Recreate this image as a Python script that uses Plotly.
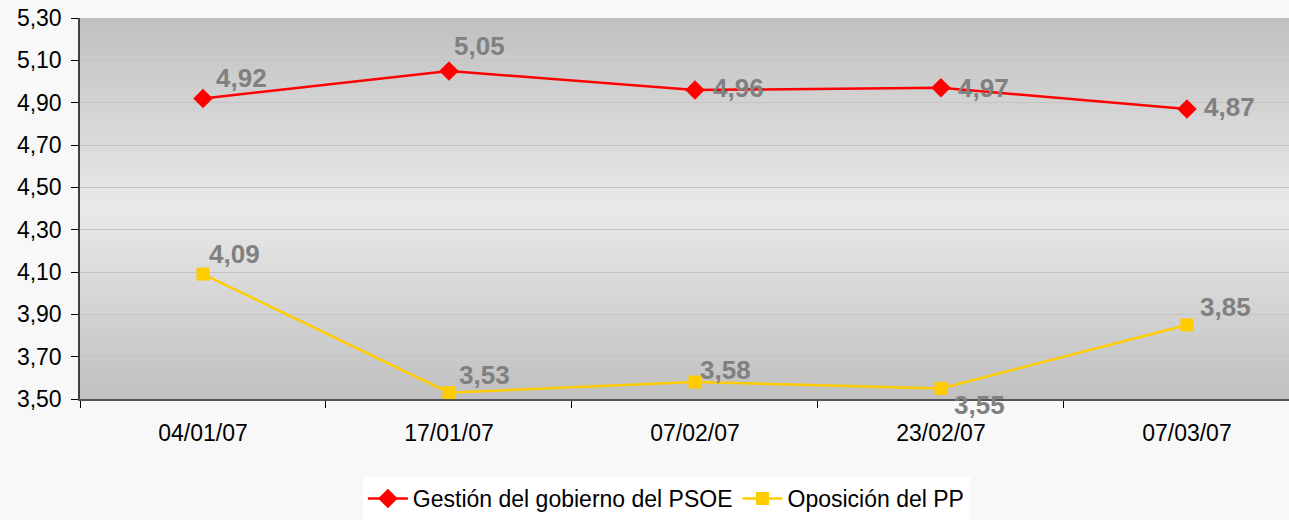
import plotly.graph_objects as go

categories = ["04/01/07", "17/01/07", "07/02/07", "23/02/07", "07/03/07"]
psoe_values = [4.92, 5.05, 4.96, 4.97, 4.87]
pp_values = [4.09, 3.53, 3.58, 3.55, 3.85]
series_names = ["Gestión del gobierno del PSOE", "Oposición del PP"]
y_ticks = [3.5, 3.7, 3.9, 4.1, 4.3, 4.5, 4.7, 4.9, 5.1, 5.3]

# label offsets (pixels, relative to each point): right, up
psoe_label_dx = [14, 6, 19, 18, 18]
psoe_label_dy = [20, 25, 2, 0, 2]
pp_label_dx = [7, 11, 6, 14, 14]
pp_label_dy = [20, 18, 12, -17, 18]

FONT = "Liberation Sans, Arial, sans-serif"
label_font = dict(family=FONT, size=26, color="#808080")

def fmt(v):
    return f"{v:.2f}".replace(".", ",")

fig = go.Figure()
fig.add_trace(go.Scatter(
    x=categories, y=psoe_values, name=series_names[0],
    mode="lines+markers",
    line=dict(color="#FF0000", width=2.5),
    marker=dict(symbol="diamond", size=15, color="#FF0000"),
    cliponaxis=False,
))
fig.add_trace(go.Scatter(
    x=categories, y=pp_values, name=series_names[1],
    mode="lines+markers",
    line=dict(color="#FFCC00", width=2.5),
    marker=dict(symbol="square", size=13, color="#FFCC00"),
    cliponaxis=False,
))

annotations = []
for vals, dxs, dys in ((psoe_values, psoe_label_dx, psoe_label_dy),
                       (pp_values, pp_label_dx, pp_label_dy)):
    for cat, v, dx, dy in zip(categories, vals, dxs, dys):
        annotations.append(dict(
            x=cat, y=v, xref="x", yref="y", text=f"<b>{fmt(v)}</b>",
            showarrow=False, xanchor="left", yanchor="middle",
            xshift=dx - 3, yshift=dy, font=label_font))

# gradient plot background (dark top/bottom, light middle)
n = 120
shapes = []
for i in range(n):
    t = (i + 0.5) / n
    k = 1 - abs(2 * t - 1)
    c = int(round(192 + (233 - 192) * k))
    shapes.append(dict(type="rect", xref="paper", yref="paper",
                       x0=0, x1=1, y0=i / n, y1=min(1.0, (i + 1.8) / n),
                       fillcolor=f"rgb({c},{c},{c})", line=dict(width=0),
                       layer="below"))

fig.update_layout(
    width=1289, height=520,
    margin=dict(l=80, r=0, t=18, b=121),
    paper_bgcolor="#f8f8f8",
    plot_bgcolor="rgba(0,0,0,0)",
    separators=",.",
    font=dict(family=FONT, size=23, color="#000000"),
    shapes=shapes,
    annotations=annotations,
    showlegend=True,
    legend=dict(orientation="h", x=0.485, xanchor="center",
                yref="container", y=-0.012, yanchor="bottom",
                bgcolor="#ffffff", borderwidth=0, font=dict(family=FONT, size=23, color="#000"),
                itemwidth=40),
    xaxis=dict(type="category", range=[-0.5, 4.415], showgrid=False,
               showline=True, linecolor="#555555", linewidth=2,
               ticks="outside", tickson="boundaries", ticklen=7, tickcolor="#000000",
               ticklabelstandoff=12, tickfont=dict(size=23), zeroline=False),
    yaxis=dict(range=[3.5, 5.3], tickvals=y_ticks, tickformat=".2f",
               showgrid=True, gridcolor="#c4c4c4", gridwidth=1,
               showline=True, linecolor="#404040", linewidth=1.5,
               ticks="outside", ticklen=7, tickcolor="#000000",
               ticklabelstandoff=5, tickfont=dict(size=23), zeroline=False),
)

fig.write_html("out.html", config={"displayModeBar": False},
               post_script="document.body.style.margin='0';document.body.style.overflow='hidden';")
